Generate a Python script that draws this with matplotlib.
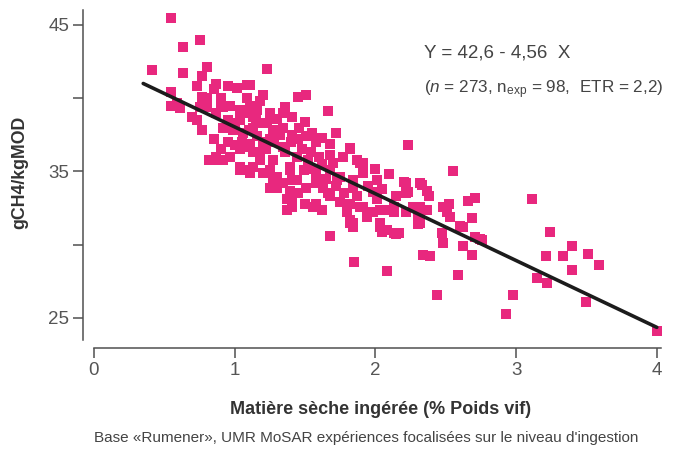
import matplotlib
matplotlib.use("Agg")
import matplotlib.pyplot as plt
import numpy as np

plt.rcParams['font.family'] = ['Liberation Sans', 'DejaVu Sans']
plt.rcParams['mathtext.fontset'] = 'custom'
plt.rcParams['mathtext.rm'] = 'Liberation Sans'
plt.rcParams['mathtext.it'] = 'Liberation Sans:italic'

# Dry matter intake (% live weight) and methane yield (g CH4 / kg digestible OM)
intake = [
    0.55, 0.63, 0.75, 0.41, 0.63, 0.80, 1.23, 0.77, 0.87, 0.73, 0.55, 0.59, 0.80, 0.90,
    1.02, 1.11, 1.09, 0.97, 1.11,
    0.55, 0.61, 0.73, 0.77, 0.85, 0.90, 0.85, 0.92, 0.97, 1.04, 1.09, 1.04, 1.11, 0.80,
    0.87, 0.95, 0.99, 1.06, 1.04, 1.13, 1.11, 0.92,
    0.87, 0.82, 1.04, 0.75, 0.70, 0.61, 0.77, 0.85, 0.95, 1.09, 0.90, 1.04, 1.13, 0.97,
    1.20, 1.27, 1.16, 1.06, 1.13, 1.18, 1.25, 1.30, 1.39, 1.39, 1.37, 1.30, 1.41, 1.56,
    1.66, 1.73, 1.84, 1.89, 1.94, 2.03, 2.13, 2.17, 1.80, 1.84, 2.01, 2.13, 2.22, 2.27,
    2.32,
    1.51, 1.45, 1.66, 1.20, 1.34, 1.41, 1.50, 1.25, 1.16, 1.13, 1.23, 1.34, 1.41, 1.51,
    1.58, 1.68, 1.82, 1.68, 1.77, 1.87, 1.91, 1.54, 1.44, 1.34, 1.25, 1.16, 1.18, 1.27,
    1.39, 1.49, 1.58, 1.68, 1.75, 1.84, 1.30, 1.20, 1.13, 1.41, 1.58,
    1.27, 1.34, 1.25, 1.44, 1.51, 1.63, 1.68, 1.58, 1.41, 1.37, 1.82, 1.80, 1.82, 1.68,
    1.85, 1.25, 1.11, 1.91,
    2.23, 2.55, 2.10, 1.82, 1.89, 1.91, 2.01, 2.20, 2.32, 2.37, 2.23, 2.15, 1.87, 1.98,
    2.08, 2.03, 2.30, 2.37, 2.51, 2.53, 2.62, 1.82, 1.84,
    2.22, 2.33, 2.38, 2.52, 2.71, 2.66, 2.69, 2.60, 2.51, 2.32, 2.48, 2.62, 2.69, 2.74,
    2.76, 2.34, 2.39, 2.13, 2.08, 2.03, 2.13, 2.03, 2.22, 2.32, 2.48,
    3.11, 3.24, 3.40, 3.51, 3.59, 3.21, 3.33, 3.40, 3.15, 3.22, 3.50, 2.98, 2.93, 2.44,
    2.59, 2.08, 4.00,
    2.47, 2.15, 2.05, 2.30, 2.60, 2.71,
    0.95, 1.00, 1.05, 1.10, 1.15, 1.20, 1.22, 1.28, 1.32, 1.36, 1.40, 1.45, 1.48, 1.52,
    1.55, 1.60, 1.62, 1.65, 1.70, 1.72, 1.78, 1.95, 1.98, 2.05, 1.00, 1.07, 0.92, 1.18,
    1.30, 1.36, 1.46, 1.55, 1.62, 1.72, 1.45, 1.50, 1.62, 1.75, 2.00,
]
methane = [
    45.5, 43.5, 44.0, 41.9, 41.7, 42.1, 42.0, 41.5, 41.0, 40.8, 40.4, 39.7, 40.0, 40.0,
    40.7, 40.9, 40.0, 39.5, 39.5,
    39.5, 39.3, 38.5, 37.8, 37.2, 36.5, 35.8, 35.8, 36.0, 36.5, 35.1, 35.3, 36.9, 39.4,
    39.0, 38.5, 37.8, 37.6, 38.5, 38.0, 39.4, 39.4,
    36.0, 35.8, 35.1, 39.4, 38.7, 39.4, 40.1, 40.6, 40.8, 40.9, 39.6, 39.2, 38.7, 38.3,
    38.3, 37.8, 37.4, 36.7, 36.3, 35.8, 35.1, 34.4, 35.1, 33.7, 33.1, 33.9, 32.6, 32.6,
    33.5, 34.4, 33.9, 32.6, 31.9, 31.5, 30.8, 30.8, 32.4, 31.5, 33.1, 32.6, 33.5, 32.6,
    31.7,
    40.2, 40.1, 39.1, 40.2, 39.0, 38.7, 38.4, 39.0, 39.2, 38.0, 38.3, 38.0, 37.5, 37.4,
    37.0, 36.9, 36.6, 36.1, 36.0, 35.8, 35.6, 36.3, 36.0, 36.7, 37.2, 37.4, 36.3, 35.8,
    35.3, 35.1, 34.9, 35.1, 34.6, 34.4, 34.6, 34.9, 35.3, 34.4, 34.2,
    34.4, 34.2, 33.9, 34.4, 33.9, 33.9, 33.3, 32.8, 33.1, 32.4, 32.8, 32.2, 31.5, 30.6,
    28.8, 34.9, 34.9, 32.6,
    36.8, 35.0, 34.8, 36.5, 35.6, 34.9, 34.4, 34.3, 34.2, 33.7, 33.6, 33.3, 33.3, 32.2,
    32.4, 31.2, 31.9, 32.4, 32.6, 31.9, 31.2, 31.7, 31.2,
    34.2, 34.1, 33.3, 32.8, 33.2, 33.0, 31.8, 31.2, 32.2, 31.5, 30.1, 29.9, 29.3, 30.4,
    30.3, 29.3, 29.2, 30.8, 31.0, 31.5, 32.2, 32.4, 32.2, 32.6, 32.6,
    33.1, 30.9, 29.9, 29.4, 28.6, 29.2, 29.2, 28.3, 27.7, 27.4, 26.1, 26.6, 25.3, 26.6,
    27.9, 28.2, 24.1,
    30.8, 30.7, 30.9, 31.4, 31.3, 30.5,
    37.0, 36.8, 37.0, 37.8, 38.5, 37.0, 36.5, 37.0, 37.5, 36.3, 37.0, 37.2, 36.5, 35.8,
    35.2, 36.0, 35.5, 34.5, 35.6, 34.0, 33.5, 34.0, 33.6, 33.8, 38.0, 39.0, 38.0, 39.8,
    38.6, 39.4, 38.0, 37.6, 37.3, 37.6, 33.5, 32.8, 32.4, 32.9, 35.2,
]

# Regression line
fit_intercept = 42.6
fit_slope = -4.56
fit_range = [0.35, 4.0]

x_ticks = [0, 1, 2, 3, 4]
y_ticks = [25, 30, 35, 40, 45]
y_tick_labels = ['25', '', '35', '', '45']

W, H = 676, 453
fig = plt.figure(figsize=(W / 100, H / 100), dpi=100)
ax = fig.add_axes([83 / W, 105 / H, (671 - 83) / W, (348 - 10) / H])
ax.set_xlim(-0.078, 4.101)
ax.set_ylim(22.95, 46.02)

pink = '#E8287E'
ax.scatter(intake, methane, marker='s', s=50, color=pink, linewidths=0, zorder=2)

xf = np.array(fit_range)
ax.plot(xf, fit_intercept + fit_slope * xf, color='#1c1c1c', lw=2.6,
        solid_capstyle='round', zorder=3)

for side in ('top', 'right'):
    ax.spines[side].set_visible(False)
ax.spines['left'].set_bounds(23.5, 46.02)
ax.spines['bottom'].set_bounds(0, 4.03)
for side in ('left', 'bottom'):
    ax.spines[side].set_color('#505050')
    ax.spines[side].set_linewidth(1.1)

ax.set_xticks(x_ticks)
ax.set_yticks(y_ticks)
ax.set_yticklabels(y_tick_labels)
ax.tick_params(direction='out', length=7, width=1.1, color='#505050',
               labelcolor='#555555', labelsize=13.5, pad=3)

ax.set_xlabel('Matière sèche ingérée (% Poids vif)', fontsize=13, fontweight='bold',
              color='#333333')
ax.xaxis.set_label_coords((381 - 83) / 588, (348 - 401) / 338)
ax.set_ylabel('gCH4/kgMOD', fontsize=12.8, fontweight='bold', color='#333333')
ax.yaxis.set_label_coords((28 - 83) / 588, (348 - 172) / 338)

ax.text((424 - 83) / 588, (348 - 53) / 338, 'Y = 42,6 - 4,56  X', transform=ax.transAxes,
        fontsize=13.5, color='#444444', ha='left', va='center')
ax.text((424 - 83) / 588, (348 - 90) / 338,
        r'($n$ = 273, n$_{\mathrm{exp}}$ = 98,  ETR = 2,2)',
        transform=ax.transAxes, fontsize=12.3, color='#444444', ha='left', va='center')

fig.text(366 / W, 1 - 438 / H,
         "Base «Rumener», UMR MoSAR expériences focalisées sur le niveau d'ingestion",
         fontsize=11, color='#444444', ha='center', va='center')

fig.savefig('out.png', dpi=100)
